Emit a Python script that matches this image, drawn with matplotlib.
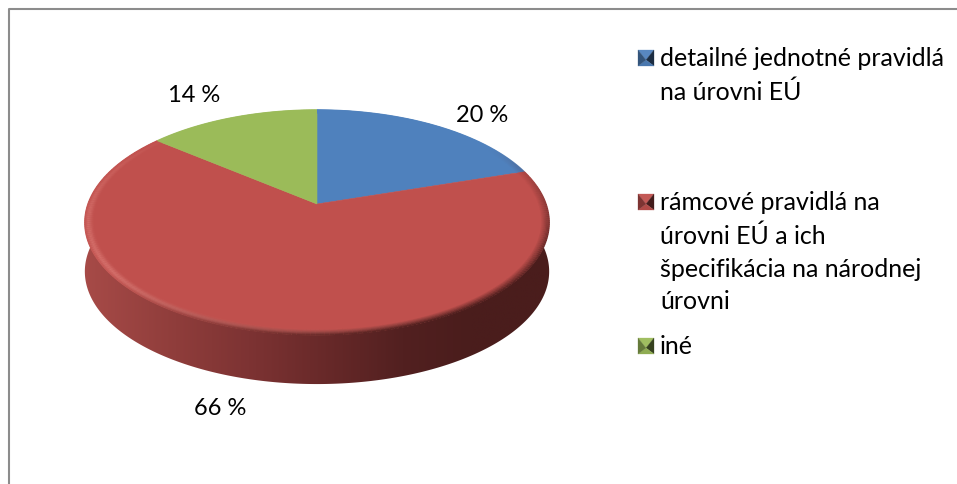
import numpy as np
import matplotlib
matplotlib.use("Agg")
import matplotlib.pyplot as plt
from matplotlib.collections import LineCollection
from matplotlib.colors import LinearSegmentedColormap, to_rgb
from matplotlib.patches import Polygon

categories = ["detailné jednotné pravidlá\nna úrovni EÚ",
              "rámcové pravidlá na\núrovni EÚ a ich\nšpecifikácia na národnej\núrovni",
              "iné"]
values = [20, 66, 14]
value_labels = ["20 %", "66 %", "14 %"]
colors = ["#4f81bd", "#c0504d", "#9bbb59"]

CX, CY = 317, 205
A, B, C = 109.5, 0.1645, 229
DEPTH = 49


def project(theta, r=1.0):
	# theta clockwise from top, tilted disc with a little perspective
	u = r * np.sin(theta)
	v = r * np.cos(theta)
	k = 1 + B * v
	return CX + C * u / k, CY - A * v / k


def blend(col, other, t):
	col = np.array(to_rgb(col))
	other = np.array(to_rgb(other))
	return col * (1 - t) + other * t


fig = plt.figure(figsize=(9.57, 4.85), dpi=100)
ax = fig.add_axes([0, 0, 1, 1])
ax.set_xlim(0, 957)
ax.set_ylim(485, 0)
ax.axis("off")

# outer frame
ax.plot([8.5, 8.5, 957], [485, 9.5, 9.5], color="#8c8c8c", lw=1.5, solid_capstyle="butt")

# side of the disc, gradient clipped to the outline
t = np.linspace(np.radians(80), np.radians(285), 300)
x, y = project(t)
side_pts = np.column_stack([np.r_[x, x[::-1]], np.r_[y, y[::-1] + DEPTH]])
side = Polygon(side_pts, closed=True, transform=ax.transData, fc="none", ec="none")
ax.add_patch(side)
side_cmap = LinearSegmentedColormap.from_list(
	"side", [(0, "#a84b48"), (0.2, "#8f3d3b"), (0.355, "#7d3333"), (0.5, "#6a2a2a"), (0.68, "#522020"), (0.82, "#4a1d1c"), (1, "#4a1d1c")])
im = ax.imshow(np.linspace(0, 1, 256)[None, :], extent=(80, 555, 400, 150), cmap=side_cmap,
	aspect="auto", zorder=1)
im.set_clip_path(side)
ax.set_xlim(0, 957)
ax.set_ylim(485, 0)

# top surface
fractions = np.array(values) / sum(values)
edges = np.r_[0, np.cumsum(fractions)] * 2 * np.pi
for i in range(len(values)):
	t = np.linspace(edges[i], edges[i + 1], 200)
	x, y = project(t)
	ax.add_patch(Polygon(np.column_stack([np.r_[CX, x], np.r_[CY, y]]), closed=True,
		fc=colors[i], ec=colors[i], lw=0.4, zorder=2))

# bevel along the rim: light lower left, dark on the right
for i in range(len(values)):
	t = np.linspace(edges[i], edges[i + 1], 240)
	light = np.clip(np.cos(t - np.radians(230)), 0, 1) ** 1.2
	dark = np.clip(np.cos(t - np.radians(145)), 0, 1) ** 1.3
	for r, glow in zip(np.linspace(0.965, 1.0, 8), [0.1, 0.3, 0.6, 0.85, 1, 0.9, 0.6, 0.3]):
		x, y = project(t, r)
		pts = np.column_stack([x, y])
		segs = np.stack([pts[:-1], pts[1:]], axis=1)
		cols = []
		for a, b in zip(light[:-1], dark[:-1]):
			c = blend(colors[i], "#ffb0a8" if i == 1 else "#ffffff", 0.32 * a * glow)
			c = blend(c, "#4a1d1c", min(1, 0.95 * b * (r - 0.965) / 0.035))
			cols.append(c)
		ax.add_collection(LineCollection(segs, colors=cols, linewidths=1.0, zorder=3))

# value labels
font = ["Lato", "DejaVu Sans"]
label_pos = [(482, 115), (220, 409), (194, 96)]
for (lx, ly), txt in zip(label_pos, value_labels):
	ax.text(lx, ly, txt, ha="center", va="center", fontsize=17, family=font, color="#000000", zorder=5)

# legend
legend_y = [59, 203, 347]
for i, name in enumerate(categories):
	s = 8
	my = legend_y[i]
	mx = 646
	c = colors[i]
	apex = (mx, my + 2)
	faces = [([(mx - s, my - s), (mx + s, my - s), apex], blend(c, "#ffffff", 0.05)),
		([(mx + s, my - s), (mx + s, my + s), apex], blend(c, "#000000", 0.65)),
		([(mx + s, my + s), (mx - s, my + s), apex], blend(c, "#000000", 0.08)),
		([(mx - s, my + s), (mx - s, my - s), apex], blend(c, "#000000", 0.35))]
	for pts, fc in faces:
		ax.add_patch(Polygon(pts, closed=True, fc=fc, ec=fc, lw=0.2, zorder=4))
	ax.text(660, legend_y[i] - 11.5, name, ha="left", va="top", fontsize=18, family=font,
		color="#000000", linespacing=1.51, zorder=5)

fig.savefig("out.png", dpi=100)
